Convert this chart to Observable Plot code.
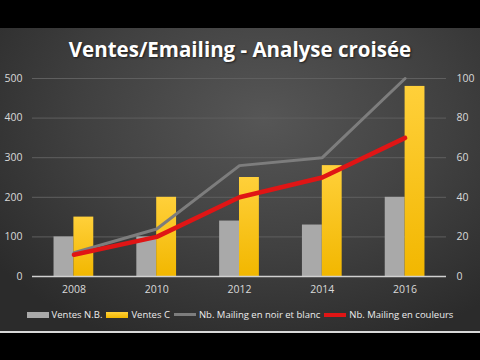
<!DOCTYPE html>
<html><head><meta charset="utf-8">
<script src="https://cdn.jsdelivr.net/npm/d3@7"></script>
<script src="https://cdn.jsdelivr.net/npm/@observablehq/plot@0.6"></script>
<style>
html,body{margin:0;padding:0;background:#000;}
#wrap{position:relative;width:480px;height:360px;background:#000;overflow:hidden;font-family:"Open Sans",sans-serif;}
#panel{position:absolute;left:0;top:28px;width:480px;height:303px;
 background:radial-gradient(ellipse 70% 80% at 55% 30%, #565656 0%, #404040 55%, #2b2b2b 100%);}
#line{position:absolute;left:0;top:331px;width:480px;height:2px;background:#d8d8d8;}
#title{position:absolute;left:0;top:35px;width:480px;text-align:center;color:#fff;font-weight:700;font-size:20.5px;text-shadow:1px 1px 2px rgba(0,0,0,.6);}
#chart{position:absolute;left:0;top:64px;}
#legend{position:absolute;left:0;top:308px;width:480px;display:flex;justify-content:center;align-items:center;color:#ececec;font-size:9.5px;white-space:nowrap;}
#legend .it{display:flex;align-items:center;margin:0 2px;}
#legend .sw{display:inline-block;width:22px;margin-right:3px;}
</style></head>
<body><div id="wrap"><div id="panel"></div><div id="line"></div>
<div id="title">Ventes/Emailing - Analyse croisée</div>
<div id="chart"></div>
<div id="legend"></div></div>
<script>
const years = [2008, 2010, 2012, 2014, 2016];
const ventesNB = [100, 100, 140, 130, 200];
const ventesC = [150, 200, 250, 280, 480];
const mailingNB = [12, 24, 56, 60, 100];
const mailingC = [11, 20, 40, 50, 70];
const leftTicks = [0, 100, 200, 300, 400, 500];
const rightTicks = [0, 20, 40, 60, 80, 100];
const seriesNames = ["Ventes N.B.", "Ventes C", "Nb. Mailing en noir et blanc", "Nb. Mailing en couleurs"];

const ratio = 5; // right axis 0-100 -> left axis 0-500
const barHalf = 0.48;
const bars = years.flatMap((y, i) => [
  {year: y, s: "nb", x1: y - barHalf, x2: y, v: ventesNB[i]},
  {year: y, s: "c", x1: y, x2: y + barHalf, v: ventesC[i]}
]);
const lineNB = years.map((y, i) => ({year: y, v: mailingNB[i] * ratio}));
const lineC = years.map((y, i) => ({year: y, v: mailingC[i] * ratio}));

const plot = Plot.plot({
  width: 480, height: 236,
  marginLeft: 32, marginRight: 34, marginTop: 14, marginBottom: 24,
  style: {background: "transparent", color: "#d9d9d9", fontFamily: "Open Sans, sans-serif", fontSize: "10.5px"},
  x: {domain: [2007, 2017], axis: null},
  y: {domain: [0, 500], axis: null},
  marks: [
    Plot.ruleY(leftTicks.filter(d => d > 0), {stroke: "#5f5f5f", strokeWidth: 1}),
    Plot.rectY(bars.filter(d => d.s === "nb"), {x1: "x1", x2: "x2", y: "v", fill: "#a9a9a9"}),
    Plot.rectY(bars.filter(d => d.s === "c"), {x1: "x1", x2: "x2", y: "v", fill: "url(#ygrad)"}),
    Plot.ruleY([0], {stroke: "#d0d0d0", strokeWidth: 1.5}),
    Plot.line(lineNB, {x: "year", y: "v", stroke: "#7d7d7d", strokeWidth: 3}),
    Plot.line(lineC, {x: "year", y: "v", stroke: "#e01515", strokeWidth: 4.5}),
    Plot.axisY(leftTicks, {anchor: "left", tickSize: 0, tickPadding: 10, label: null, fill: "#d9d9d9"}),
    Plot.axisY(rightTicks.map(d => d * ratio), {anchor: "right", tickSize: 0, tickPadding: 10, label: null, tickFormat: d => d / ratio, fill: "#d9d9d9"}),
    Plot.axisX(years, {anchor: "bottom", tickSize: 0, tickPadding: 9, label: null, tickFormat: d => String(d), fill: "#d9d9d9"})
  ]
});
const defs = d3.select(plot).insert("defs", ":first-child");
const g = defs.append("linearGradient").attr("id", "ygrad").attr("x1", 0).attr("y1", 0).attr("x2", 0).attr("y2", 1);
g.append("stop").attr("offset", "0%").attr("stop-color", "#ffd03a");
g.append("stop").attr("offset", "100%").attr("stop-color", "#f2b700");
document.getElementById("chart").appendChild(plot);

const swatches = [
  {bg: "#a9a9a9", h: 6},
  {bg: "linear-gradient(#ffd03a,#f2b700)", h: 6},
  {bg: "#7d7d7d", h: 3},
  {bg: "#e01515", h: 4}
];
const leg = document.getElementById("legend");
seriesNames.forEach((n, i) => {
  const it = document.createElement("span"); it.className = "it";
  const sw = document.createElement("span"); sw.className = "sw";
  sw.style.background = swatches[i].bg; sw.style.height = swatches[i].h + "px";
  it.appendChild(sw);
  const t = document.createElement("span"); t.textContent = n; it.appendChild(t);
  leg.appendChild(it);
});
</script></body></html>
